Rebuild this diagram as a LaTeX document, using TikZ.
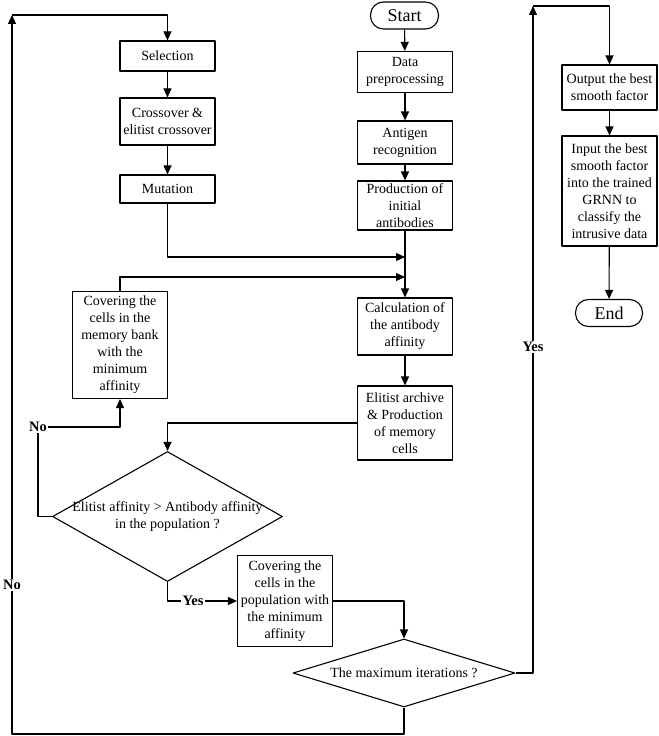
\documentclass[tikz,border=0pt]{standalone}
\usepackage{fontspec}
\setmainfont{Liberation Serif}
\usetikzlibrary{shapes.geometric,arrows.meta}

\begin{document}
\begin{tikzpicture}[x=1bp, y=-1bp, line width=1.1bp, line join=round,
		>={Triangle[length=9bp,width=8bp]},
		font=\fontsize{14bp}{17bp}\selectfont,
		box/.style={draw, align=center, inner sep=1bp, minimum width=95bp},
		term/.style={draw, rounded corners=13bp, minimum width=68bp, minimum height=27bp, font=\fontsize{18bp}{20bp}\selectfont},
		decision/.style={draw, diamond, align=center, inner sep=0pt},
		lbl/.style={fill=white, inner sep=1bp, font=\fontsize{14.5bp}{16bp}\selectfont\bfseries}]
	\useasboundingbox (0,0) rectangle (659,736);
	
	% Main column: immune process
	\node[term] (start) at (404.5,15.5) {Start};
	\node[box, minimum height=41bp] (data) at (405,72) {Data\\preprocessing};
	\node[box, minimum height=43bp] (anti) at (405,142.5) {Antigen\\recognition};
	\node[box, minimum height=49bp] (prod) at (405,205.5) {Production of\\initial\\antibodies};
	\node[box, minimum height=57bp] (calc) at (405,326.5) {Calculation of\\the antibody\\affinity};
	\node[box, minimum height=74bp] (elit) at (405,423) {Elitist archive\\\& Production\\of memory\\cells};
	
	% Left column: genetic operators
	\node[box, minimum height=30bp] (sel) at (167.5,56) {Selection};
	\node[box, minimum height=47bp] (cross) at (167.5,121.5) {Crossover \&\\elitist crossover};
	\node[box, minimum height=28bp] (mut) at (167.5,189) {Mutation};
	\node[box, minimum height=107bp] (mem) at (120,345) {Covering the\\cells in the\\memory bank\\with the\\minimum\\affinity};
	
	% Decisions
	\node[decision, inner sep=-3bp, shape aspect=1.77, minimum width=230bp, minimum height=130bp] (d1) at (167.5,516.5) {Elitist affinity > Antibody affinity\\in the population ?};
	\node[box, minimum height=91bp] (pop) at (285,601) {Covering the\\cells in the\\population with\\the minimum\\affinity};
	\node[decision, shape aspect=3.26, minimum width=222bp, minimum height=68bp] (d2) at (404,673) {The maximum iterations ?};
	
	% Right column: output
	\node[box, minimum height=45bp] (out) at (609.5,87.5) {Output the best\\smooth factor};
	\node[box, minimum height=110bp] (inp) at (609.5,191) {Input the best\\smooth factor\\into the trained\\GRNN to\\classify the\\intrusive data};
	\node[term, minimum width=67bp] (end) at (609,313) {End};
	
	% Corners of the loops
	\coordinate (loopL) at (12,15);
	\coordinate (botL) at (12,734);
	\coordinate (loopR) at (533,6);
	\coordinate (inA) at (405,257);
	\coordinate (inB) at (405,277);
	\node[lbl] (noA) at (38,427) {No};
	\node[lbl] (yesA) at (193,601) {Yes};
	
	% Connectors
	\draw[->] (start) -- (data);
	\draw[->] (data) -- (anti);
	\draw[->] (anti) -- (prod);
	\draw[->] (prod) -- (calc);
	\draw[->] (calc) -- (elit);
	\draw[->] (sel) -- (cross);
	\draw[->] (cross) -- (mut);
	\draw[->] (mut) |- (inA);
	\draw[->] (mem) |- (inB);
	\draw[->] (elit) -| (d1);
	\draw (d1.west) -| (noA.south);
	\draw[->] (noA.east) -| (mem.south);
	\draw (d1.south) |- (yesA.west);
	\draw[->] (yesA.east) -- (pop.west);
	\draw[->] (pop) -| (d2);
	\draw[->] (d2.south) |- (botL) -- (loopL);
	\draw[->] (loopL) -| (sel);
	\draw[->] (d2.east) -| (loopR);
	\draw[->] (loopR) -| (out);
	\draw[->] (out) -- (inp);
	\draw[->] (inp) -- (end);
	
	% Labels on the long returns
	\node[lbl] (noB) at (12,585) {No};
	\node[lbl] (yesB) at (533,347) {Yes};
\end{tikzpicture}
\end{document}
